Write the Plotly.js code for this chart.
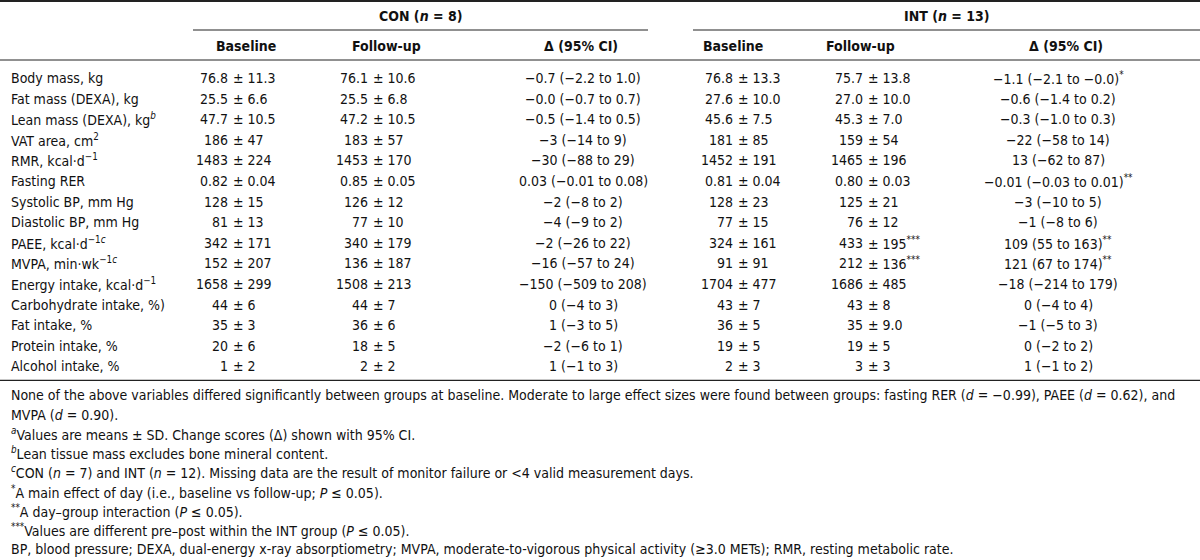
<!DOCTYPE html>
<html>
<head>
<meta charset="utf-8">
<script src="https://cdn.plot.ly/plotly-3.0.1.min.js"></script>
<style>html,body{margin:0;padding:0;background:#fff;}#chart{width:1200px;height:560px;}</style>
</head>
<body>
<div id="chart"></div>
<script>
// ---------- DATA ----------
const groupHeaders = ["CON (<i>n</i> = 8)", "INT (<i>n</i> = 13)"];
const columnHeaders = ["Baseline", "Follow-up", "Δ (95% CI)"];

const rowLabels = [
  "Body mass, kg",
  "Fat mass (DEXA), kg",
  "Lean mass (DEXA), kg<sup><i>b</i></sup>",
  "VAT area, cm<sup>2</sup>",
  "RMR, kcal·d<sup>−1</sup>",
  "Fasting RER",
  "Systolic BP, mm Hg",
  "Diastolic BP, mm Hg",
  "PAEE, kcal·d<sup>−1<i>c</i></sup>",
  "MVPA, min·wk<sup>−1<i>c</i></sup>",
  "Energy intake, kcal·d<sup>−1</sup>",
  "Carbohydrate intake, %)",
  "Fat intake, %",
  "Protein intake, %",
  "Alcohol intake, %"
];

const conBaseline = ["76.8 ± 11.3","25.5 ± 6.6","47.7 ± 10.5","186 ± 47","1483 ± 224","0.82 ± 0.04","128 ± 15","81 ± 13","342 ± 171","152 ± 207","1658 ± 299","44 ± 6","35 ± 3","20 ± 6","1 ± 2"];
const conFollowup = ["76.1 ± 10.6","25.5 ± 6.8","47.2 ± 10.5","183 ± 57","1453 ± 170","0.85 ± 0.05","126 ± 12","77 ± 10","340 ± 179","136 ± 187","1508 ± 213","44 ± 7","36 ± 6","18 ± 5","2 ± 2"];
const conDelta = ["−0.7 (−2.2 to 1.0)","−0.0 (−0.7 to 0.7)","−0.5 (−1.4 to 0.5)","−3 (−14 to 9)","−30 (−88 to 29)","0.03 (−0.01 to 0.08)","−2 (−8 to 2)","−4 (−9 to 2)","−2 (−26 to 22)","−16 (−57 to 24)","−150 (−509 to 208)","0 (−4 to 3)","1 (−3 to 5)","−2 (−6 to 1)","1 (−1 to 3)"];

const intBaseline = ["76.8 ± 13.3","27.6 ± 10.0","45.6 ± 7.5","181 ± 85","1452 ± 191","0.81 ± 0.04","128 ± 23","77 ± 15","324 ± 161","91 ± 91","1704 ± 477","43 ± 7","36 ± 5","19 ± 5","2 ± 3"];
const intFollowup = ["75.7 ± 13.8","27.0 ± 10.0","45.3 ± 7.0","159 ± 54","1465 ± 196","0.80 ± 0.03","125 ± 21","76 ± 12","433 ± 195<sup>***</sup>","212 ± 136<sup>***</sup>","1686 ± 485","43 ± 8","35 ± 9.0","19 ± 5","3 ± 3"];
const intDelta = ["−1.1 (−2.1 to −0.0)<sup>*</sup>","−0.6 (−1.4 to 0.2)","−0.3 (−1.0 to 0.3)","−22 (−58 to 14)","13 (−62 to 87)","−0.01 (−0.03 to 0.01)<sup>**</sup>","−3 (−10 to 5)","−1 (−8 to 6)","109 (55 to 163)<sup>**</sup>","121 (67 to 174)<sup>**</sup>","−18 (−214 to 179)","0 (−4 to 4)","−1 (−5 to 3)","0 (−2 to 2)","1 (−1 to 2)"];

const footnotes = [
  "None of the above variables differed significantly between groups at baseline. Moderate to large effect sizes were found between groups: fasting RER (<i>d</i> = −0.99), PAEE (<i>d</i> = 0.62), and",
  "MVPA (<i>d</i> = 0.90).",
  "<sup><i>a</i></sup>Values are means ± SD. Change scores (Δ) shown with 95% CI.",
  "<sup><i>b</i></sup>Lean tissue mass excludes bone mineral content.",
  "<sup><i>c</i></sup>CON (<i>n</i> = 7) and INT (<i>n</i> = 12). Missing data are the result of monitor failure or &lt;4 valid measurement days.",
  "<sup>*</sup>A main effect of day (i.e., baseline vs follow-up; <i>P</i> ≤ 0.05).",
  "<sup>**</sup>A day–group interaction (<i>P</i> ≤ 0.05).",
  "<sup>***</sup>Values are different pre–post within the INT group (<i>P</i> ≤ 0.05).",
  "BP, blood pressure; DEXA, dual-energy x-ray absorptiometry; MVPA, moderate-to-vigorous physical activity (≥3.0 METs); RMR, resting metabolic rate."
];

// ---------- LAYOUT CONSTANTS ----------
const FONT = "'DejaVu Sans Condensed', 'Liberation Sans Narrow', 'Arial Narrow', sans-serif";
const FS = 14;
const W = 1200, H = 560;
const labelX = 10;
const rowY0 = 78, rowDy = 20.6;
const groupY = 16, headY = 46;
const topRuleY = 1, groupRuleY = 30, headRuleY = 60;
const bottomRuleY = rowY0 + (rowLabels.length - 1) * rowDy + 14;
const footY0 = bottomRuleY + 15, footDy = 19.25;

// column geometry: pm = x of "±" sign, heads = header centres, dCenter = centre of Δ column
const groups = [
  {title: groupHeaders[0], rule: [193, 648], pm: [232, 372], dCenter: 583, heads: [246, 386, 581],
   cols: [conBaseline, conFollowup], delta: conDelta},
  {title: groupHeaders[1], rule: [693, 1200], pm: [737, 867], dCenter: 1058, heads: [733, 860, 1066],
   cols: [intBaseline, intFollowup], delta: intDelta}
];

const ann = [];
function txt(x, y, t, anchor, bold) {
  ann.push({x: x, y: y, xref: 'x', yref: 'y', text: bold ? '<b>' + t + '</b>' : t,
    showarrow: false, xanchor: anchor, yanchor: 'middle', borderpad: 0,
    font: {family: FONT, size: FS, color: '#111'}});
}

// headers
groups.forEach(g => {
  txt((g.rule[0] + g.rule[1]) / 2, groupY, g.title, 'center', true);
  columnHeaders.forEach((h, j) => txt(g.heads[j], headY, h, 'center', true));
});

// rows
rowLabels.forEach((lab, i) => {
  const y = rowY0 + i * rowDy;
  txt(labelX, y, lab, 'left', false);
  groups.forEach(g => {
    g.cols.forEach((col, j) => {
      const parts = col[i].split(' ± ');
      txt(g.pm[j] - 3.5, y, parts[0], 'right', false);
      txt(g.pm[j], y, '± ' + parts[1], 'left', false);
    });
    txt(g.dCenter, y, g.delta[i], 'center', false);
  });
});

// footnotes
footnotes.forEach((f, i) => txt(labelX, footY0 + i * footDy, f, 'left', false));

// rules
const line = (x0, x1, y, w) => ({type: 'line', xref: 'x', yref: 'y', x0: x0, x1: x1, y0: y, y1: y,
  line: {color: '#222', width: w}});
const shapes = [
  line(0, W, topRuleY, 2),
  line(groups[0].rule[0], groups[0].rule[1], groupRuleY, 1.2),
  line(groups[1].rule[0], groups[1].rule[1], groupRuleY, 1.2),
  line(0, W, headRuleY, 1),
  line(0, W, bottomRuleY, 1.2)
];

const layout = {
  width: W, height: H,
  margin: {l: 0, r: 0, t: 0, b: 0, pad: 0},
  paper_bgcolor: '#fff', plot_bgcolor: '#fff',
  showlegend: false,
  xaxis: {range: [0, W], visible: false, fixedrange: true},
  yaxis: {range: [H, 0], visible: false, fixedrange: true},
  annotations: ann,
  shapes: shapes
};

Plotly.newPlot('chart', [{x: [], y: [], type: 'scatter', hoverinfo: 'skip'}], layout, {displayModeBar: false, staticPlot: true});
</script>
</body>
</html>
